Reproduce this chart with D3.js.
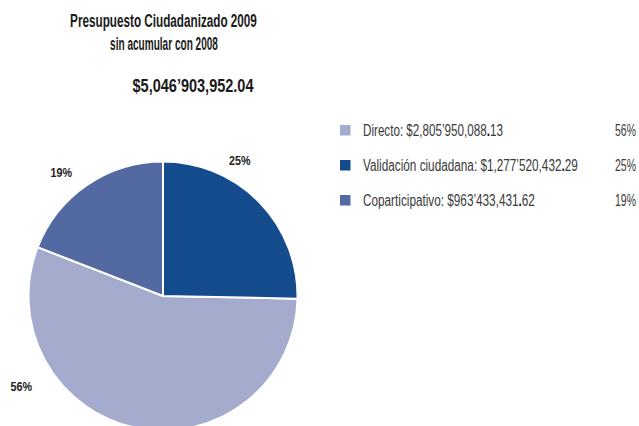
<!DOCTYPE html>
<html>
<head>
<meta charset="utf-8">
<script src="https://cdn.jsdelivr.net/npm/d3@7"></script>
<style>
  html, body { margin: 0; padding: 0; background: #fff; }
  svg { display: block; }
  text { font-family: "Liberation Sans", Arial, sans-serif; }
</style>
</head>
<body>
<svg id="chart" width="639" height="426"></svg>
<script>
// Budget components, in legend order
const categories = ["Directo", "Validación ciudadana", "Coparticipativo"];
const amounts = [2805950088.13, 1277520432.29, 963433431.62];
const colors = ["#a5abcd", "#134b8c", "#5369a1"];
// Order of the slices clockwise from twelve o'clock
const sliceOrder = ["Validación ciudadana", "Directo", "Coparticipativo"];
const titleLines = ["Presupuesto Ciudadanizado 2009", "sin acumular con 2008"];

const rows = categories.map((name, i) => ({ name, value: amounts[i], color: colors[i] }));
const total = d3.sum(amounts);

// "$5,046’903,952.04": comma for thousands, ’ for millions, comma for thousands of millions
function money(v) {
  const [intPart, dec] = v.toFixed(2).split(".");
  const groups = [];
  for (let end = intPart.length; end > 0; end -= 3) groups.unshift(intPart.slice(Math.max(0, end - 3), end));
  let out = "";
  groups.forEach((g, i) => {
    if (i > 0) out += (groups.length - i === 2) ? "’" : ",";
    out += g;
  });
  return { int: "$" + out, dec };
}
const pct = v => Math.round(v / total * 100) + "%";

// Condensed look: squeeze a text horizontally about its anchor point to a given width
function condense(textSel, x, y, width) {
  textSel.attr("x", 0).attr("y", 0);
  const w = textSel.node().getComputedTextLength();
  textSel.attr("transform", `translate(${x},${y}) scale(${width / w},1)`);
}

const svg = d3.select("#chart");

// Title block
const title = svg.append("g").attr("fill", "#1a1a1a").attr("font-weight", "bold");
condense(title.append("text").attr("text-anchor", "middle").attr("font-size", 18.5).text(titleLines[0]),
  163.5, 26.5, 187);
condense(title.append("text").attr("text-anchor", "middle").attr("font-size", 18.5).text(titleLines[1]),
  164, 49.5, 108);
const tot = money(total);
condense(title.append("text").attr("text-anchor", "middle").attr("font-size", 19).text(tot.int + "." + tot.dec),
  193, 91.5, 121);

// Pie
const cx = 163, cy = 296, radius = 134.5;
const pie = d3.pie()
  .value(d => d.value)
  .sort((a, b) => sliceOrder.indexOf(a.name) - sliceOrder.indexOf(b.name));
const arcs = pie(rows);
const arc = d3.arc().innerRadius(0).outerRadius(radius);

const g = svg.append("g").attr("transform", `translate(${cx},${cy})`);
g.selectAll("path.slice").data(arcs).join("path")
  .attr("class", "slice")
  .attr("d", arc)
  .attr("fill", d => d.data.color)
  .attr("stroke", "#fff")
  .attr("stroke-width", 2);

// Percentage labels outside the pie: polar placement per slice (degrees clockwise from top, radius)
const labelPlacement = {
  "Validación ciudadana": { angle: 29.5, r: 156 },
  "Directo": { angle: 237.5, r: 168 },
  "Coparticipativo": { angle: 320.5, r: 160 }
};
g.selectAll("text.pct").data(arcs).join("text")
  .attr("class", "pct")
  .attr("text-anchor", "middle")
  .attr("font-size", 13)
  .attr("font-weight", "bold")
  .attr("fill", "#222")
  .text(d => pct(d.data.value))
  .each(function(d) {
    const p = labelPlacement[d.data.name], a = p.angle * Math.PI / 180;
    condense(d3.select(this), p.r * Math.sin(a), -p.r * Math.cos(a) + 4.5, 21.5);
  });

// Legend
const legendY = d3.scalePoint().domain(categories).range([135.5, 205.5]);
const legend = svg.append("g");
const item = legend.selectAll("g").data(rows).join("g")
  .attr("transform", d => `translate(0,${legendY(d.name)})`);
item.append("rect")
  .attr("x", 340).attr("y", -10.5).attr("width", 10.5).attr("height", 10.5)
  .attr("fill", d => d.color);
const legendWidths = [140, 215, 172];
item.append("text")
  .attr("font-size", 16)
  .attr("fill", "#3a3a3a")
  .each(function(d, i) {
    const m = money(d.value);
    const t = d3.select(this);
    t.append("tspan").text(d.name + ": " + m.int);
    t.append("tspan").attr("font-weight", "bold").attr("fill", "#111").text(".");
    t.append("tspan").text(m.dec);
    condense(t, 363, 0.5, legendWidths[i]);
  });
item.append("text")
  .attr("text-anchor", "end")
  .attr("font-size", 16)
  .attr("fill", "#3a3a3a")
  .text(d => pct(d.value))
  .each(function() { condense(d3.select(this), 636, 0.5, 21); });
</script>
</body>
</html>
